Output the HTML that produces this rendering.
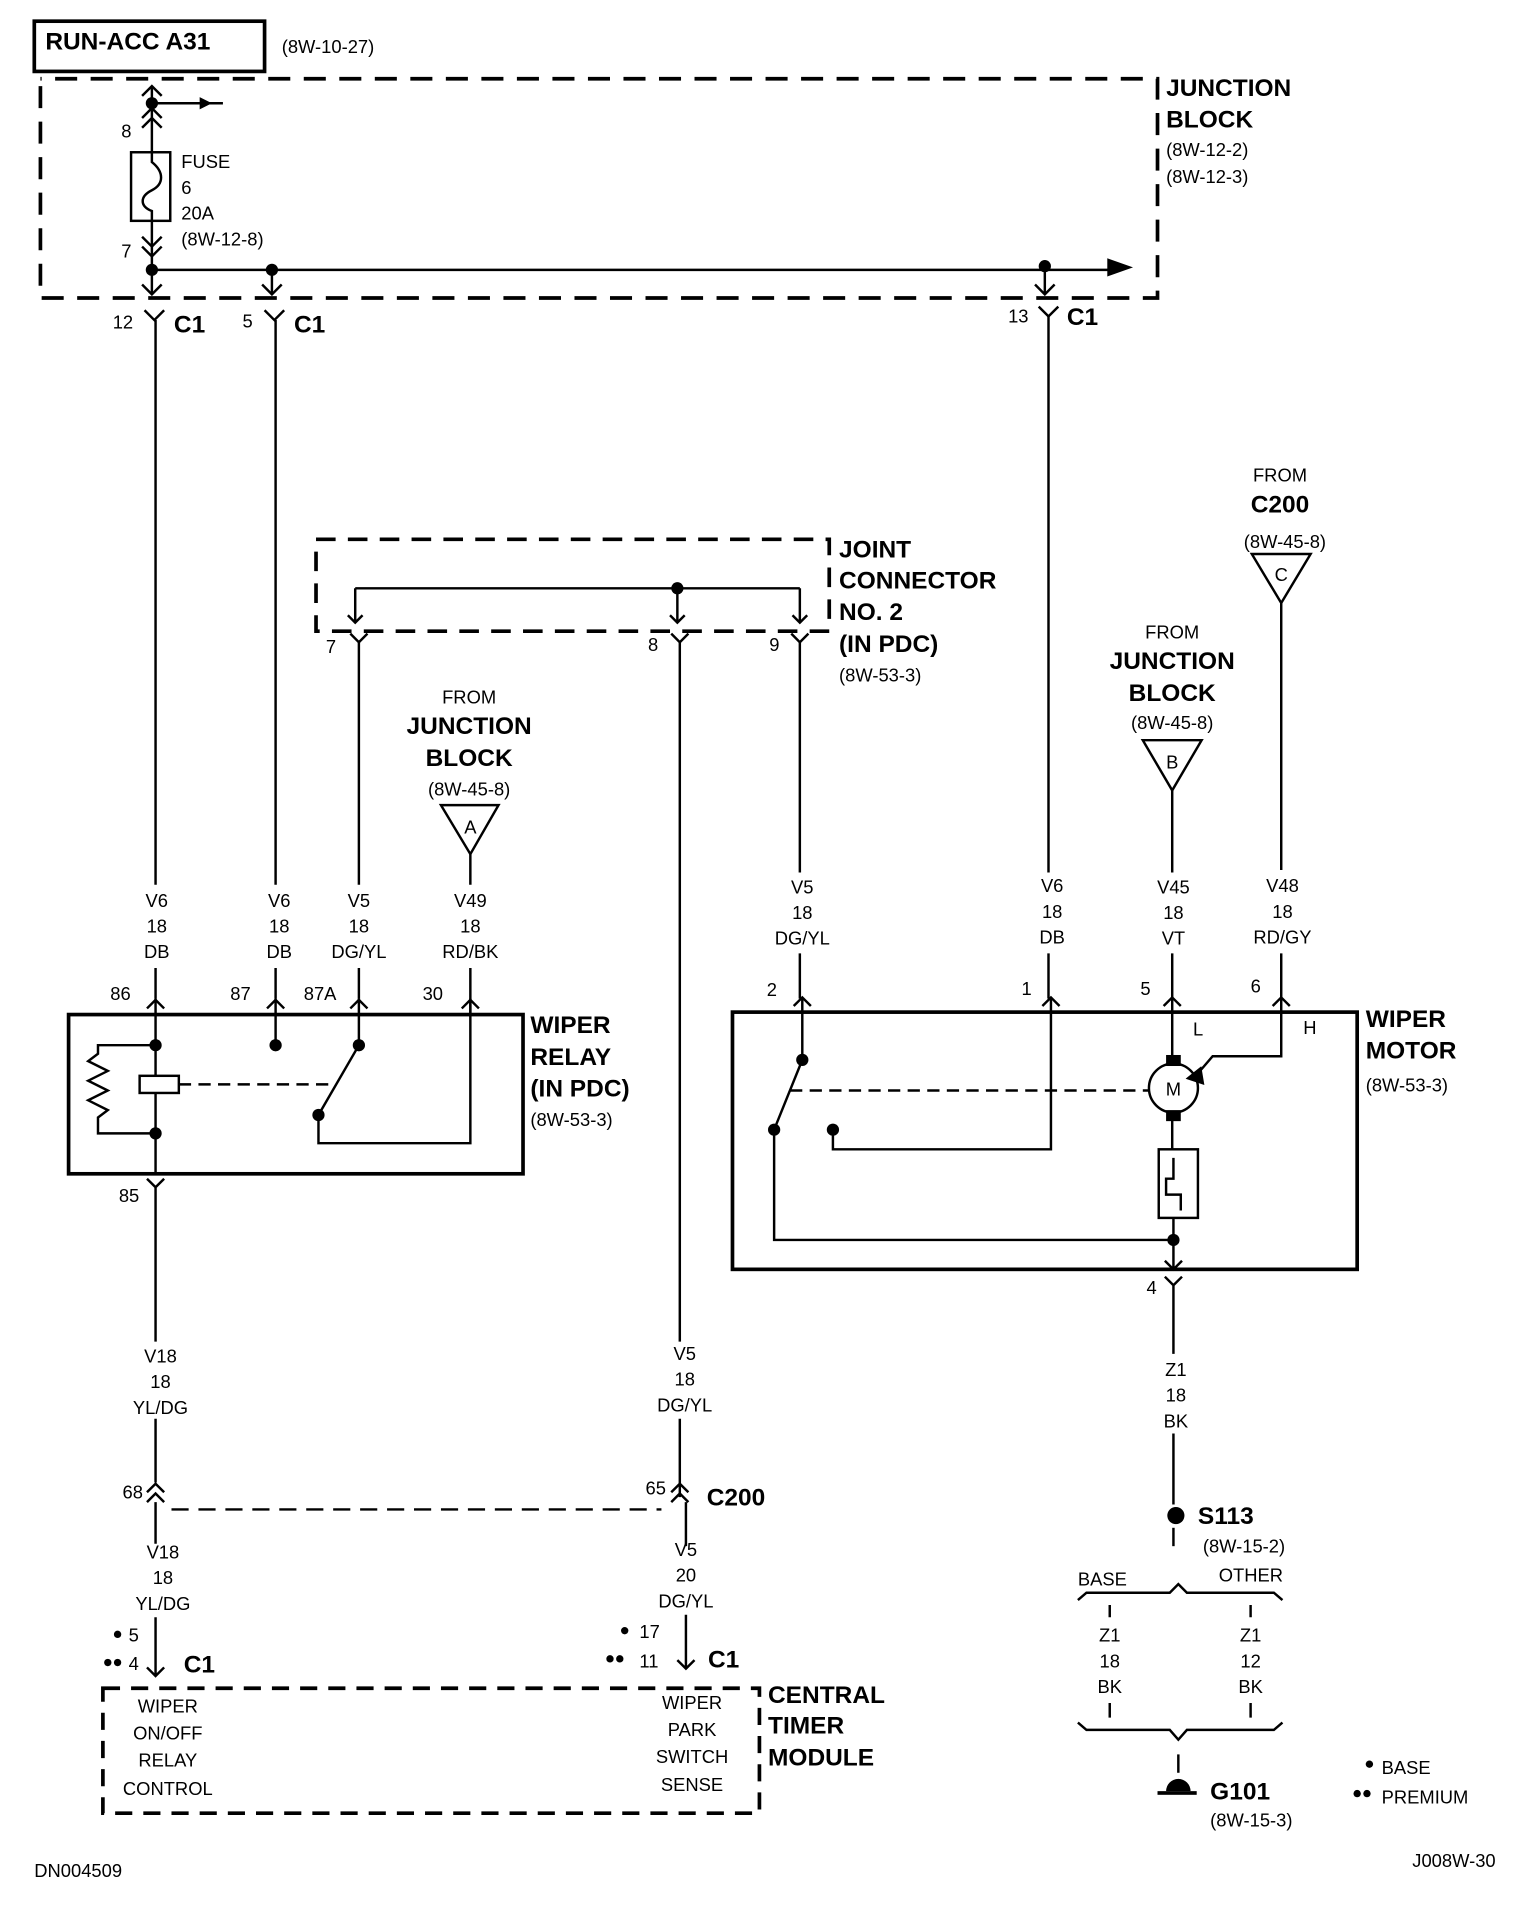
<!DOCTYPE html>
<html><head><meta charset="utf-8"><style>
html,body{margin:0;padding:0;background:#fff;}
svg{display:block;}
text{font-family:"Liberation Sans Narrow","Liberation Sans",sans-serif;fill:#000;font-size:15px;}
.b{font-weight:bold;font-size:20px;}
.c{text-anchor:middle;}
</style></head><body>
<svg width="1536" height="1914" viewBox="0 0 1254 1562" xmlns="http://www.w3.org/2000/svg">
<defs>
<marker id="ar" markerWidth="10" markerHeight="10" refX="9" refY="5" orient="auto" markerUnits="userSpaceOnUse"><path d="M0,0 L10,5 L0,10 z" fill="#000"/></marker>
</defs>
<g stroke="#000" stroke-width="2" fill="none">
<!-- top box -->
<rect x="28" y="17" width="188" height="41" stroke-width="3"/>
<!-- junction block dashed -->
<path d="M33,70 V243 H945 V64 H33" stroke-dasharray="18,11" stroke-width="3"/>
<!-- fuse column -->
<path d="M124,70 V220"/>
<path d="M116,78 L124,70 L132,78 M116,96 L124,88 L132,96 M116,104 L124,96 L132,104"/>
<path d="M124,84 H172" marker-end="url(#ar)" stroke-width="2"/>
<path d="M124,84 H182" />
<rect x="107" y="124" width="32" height="56" fill="#fff"/>
<path d="M124,124 V132 C134,140 134,150 124,155 C114,160 114,168 124,172 V180"/>
<path d="M116,193 L124,201 L132,193 M116,201 L124,209 L132,201"/>
<path d="M124,220 H910"/>
<path d="M905,212 L922,218 L905,224 z" fill="#000"/>
<path d="M222,220 V240 M853,217 V240 M124,220 V240"/>
<path d="M116,232 L124,240 L132,232 M214,232 L222,240 L230,232 M845,232 L853,240 L861,232"/>
<!-- C1 female connectors -->
<path d="M118,253 L126,261 L134,253 M216,253 L224,261 L232,253 M848,250 L856,258 L864,250"/>
<!-- wires down -->
<path d="M127,261 V722 M127,790 V815 M225,261 V722 M225,790 V815 M856,258 V712 M856,778 V815"/>
<!-- joint connector -->
<path d="M258,440 H677 V515 H258 Z" stroke-dasharray="16,10" stroke-width="3"/>
<path d="M290,480 H653 M290,480 V508 M553,480 V508 M653,480 V508"/>
<path d="M284,502 L290,508 L296,502 M547,502 L553,508 L559,502 M647,502 L653,508 L659,502"/>
<path d="M286,517 L293,524 L300,517 M548,517 L555,524 L562,517 M646,517 L653,524 L660,517"/>
<path d="M293,524 V722 M293,790 V815 M555,524 V1095 M555,1158 V1222 M653,524 V712 M653,778 V815"/>
<!-- triangles -->
<path d="M360,657 H407 L384,697 Z M933,604 H981 L957,645 Z M1022,452 H1070 L1046,492 Z"/>
<path d="M384,697 V722 M384,790 V828 M957,645 V712 M957,778 V815 M1046,492 V710 M1046,778 V815"/>
<!-- relay box -->
<rect x="56" y="828" width="371" height="130" stroke-width="3"/>
<path d="M120,823 L127,816 L134,823 M218,823 L225,816 L232,823 M286,823 L293,816 L300,823 M377,823 L384,816 L391,823"/>
<path d="M127,815 V958 M127,853 H80 V860 L72,866 L88,874 L72,882 L88,890 L72,898 L88,906 L80,912 V925 H127"/>
<rect x="114" y="878" width="32" height="14" fill="#fff"/>
<path d="M146,885 H270" stroke-dasharray="10,6"/>
<path d="M225,815 V853 M293,815 V853 M293,853 L260,910 V933 H384 V815"/>
<!-- 85 -->
<path d="M120,962 L127,969 L134,962 M127,969 V1095 M127,1158 V1210"/>
<path d="M120,1218 L127,1211 L134,1218 M120,1226 L127,1219 L134,1226"/>
<path d="M140,1232 H540" stroke-dasharray="14,8"/>
<path d="M548,1218 L555,1211 L562,1218 M548,1226 L555,1219 L562,1226"/>
<path d="M127,1226 V1260 M127,1320 V1368 M120,1361 L127,1368 L134,1361"/>
<path d="M560,1226 V1262 M560,1318 V1362 M553,1355 L560,1362 L567,1355"/>
<!-- central timer module -->
<path d="M84,1378 H620 V1480 H84 Z" stroke-dasharray="14,9" stroke-width="3"/>
<!-- motor box -->
<rect x="598" y="826" width="510" height="210" stroke-width="3"/>
<path d="M648,821 L655,814 L662,821 M851,821 L858,814 L865,821 M950,821 L957,814 L964,821 M1039,821 L1046,814 L1053,821"/>
<path d="M655,815 V865 L632,922 V1012 H958"/>
<path d="M680,922 V938 H858 V815"/>
<path d="M645,890 H938" stroke-dasharray="10,6"/>
<path d="M957,815 V868 M957,908 V938 M1046,815 V862 H990 L978,876"/>
<circle cx="958" cy="888" r="20" fill="#fff"/>
<rect x="953" y="862" width="10" height="7" fill="#000"/>
<rect x="953" y="907" width="10" height="7" fill="#000"/>
<path d="M970,880 L980,872 L982,884 z" fill="#000"/>
<rect x="946" y="938" width="32" height="56"/>
<path d="M958,945 V962 H952 V975 H964 V988"/>
<path d="M958,994 V1036 M951,1029 L958,1036 L965,1029"/>
<path d="M951,1042 L958,1049 L965,1042 M958,1049 V1105 M958,1170 V1228"/>
<!-- brace S113 -->
<path d="M958,1247 V1262"/>
<path d="M880,1306 L887,1300 H955 L962,1293 L969,1300 H1040 L1047,1306"/>
<path d="M906,1310 V1320 M1021,1310 V1320 M906,1390 V1402 M1021,1390 V1402"/>
<path d="M880,1406 L887,1412 H955 L962,1420 L969,1412 H1040 L1047,1406"/>
<path d="M962,1432 V1447"/>
</g>
<g fill="#000">
<circle cx="124" cy="84" r="5"/><circle cx="124" cy="220" r="5"/><circle cx="222" cy="220" r="5"/><circle cx="853" cy="217" r="5"/>
<circle cx="553" cy="480" r="5"/>
<circle cx="127" cy="853" r="5"/><circle cx="127" cy="925" r="5"/><circle cx="225" cy="853" r="5"/><circle cx="293" cy="853" r="5"/><circle cx="260" cy="910" r="5"/>
<circle cx="655" cy="865" r="5"/><circle cx="632" cy="922" r="5"/><circle cx="680" cy="922" r="5"/><circle cx="958" cy="1012" r="5"/>
<circle cx="960" cy="1237" r="7"/>
<path d="M952,1462 A10,10 0 0 1 972,1462 z"/><rect x="945" y="1462" width="32" height="3"/>
<circle cx="1118" cy="1440" r="3"/><circle cx="1108" cy="1464" r="3"/><circle cx="1116" cy="1464" r="3"/>
<circle cx="96" cy="1334" r="3"/><circle cx="88" cy="1357" r="3"/><circle cx="96" cy="1357" r="3"/>
<circle cx="510" cy="1331" r="3"/><circle cx="498" cy="1354" r="3"/><circle cx="506" cy="1354" r="3"/>
</g>
<text x="37" y="40" class="b">RUN-ACC A31</text>
<text x="230" y="43">(8W-10-27)</text>
<text x="952" y="78" class="b">JUNCTION</text><text x="952" y="104" class="b">BLOCK</text>
<text x="952" y="127">(8W-12-2)</text><text x="952" y="149">(8W-12-3)</text>
<text x="99" y="112">8</text><text x="99" y="210">7</text>
<text x="148" y="137">FUSE</text><text x="148" y="158">6</text><text x="148" y="179">20A</text><text x="148" y="200">(8W-12-8)</text>
<text x="92" y="268">12</text><text x="142" y="271" class="b">C1</text>
<text x="198" y="267">5</text><text x="240" y="271" class="b">C1</text>
<text x="823" y="263">13</text><text x="871" y="265" class="b">C1</text>
<text x="685" y="455" class="b">JOINT</text><text x="685" y="480" class="b">CONNECTOR</text><text x="685" y="506" class="b">NO. 2</text><text x="685" y="532" class="b">(IN PDC)</text><text x="685" y="556">(8W-53-3)</text>
<text x="266" y="533">7</text><text x="529" y="531">8</text><text x="628" y="531">9</text>
<g class="c">
<text x="383" y="574" class="c">FROM</text><text x="383" y="599" class="b c">JUNCTION</text><text x="383" y="625" class="b c">BLOCK</text><text x="383" y="649" class="c">(8W-45-8)</text><text x="384" y="680" class="c">A</text>
<text x="957" y="521" class="c">FROM</text><text x="957" y="546" class="b c">JUNCTION</text><text x="957" y="572" class="b c">BLOCK</text><text x="957" y="595" class="c">(8W-45-8)</text><text x="957" y="627" class="c">B</text>
<text x="1045" y="393" class="c">FROM</text><text x="1045" y="418" class="b c">C200</text><text x="1049" y="447" class="c">(8W-45-8)</text><text x="1046" y="474" class="c">C</text>
</g>
<text x="128" y="740" class="c">V6</text><text x="128" y="761" class="c">18</text><text x="128" y="782" class="c">DB</text>
<text x="228" y="740" class="c">V6</text><text x="228" y="761" class="c">18</text><text x="228" y="782" class="c">DB</text>
<text x="293" y="740" class="c">V5</text><text x="293" y="761" class="c">18</text><text x="293" y="782" class="c">DG/YL</text>
<text x="384" y="740" class="c">V49</text><text x="384" y="761" class="c">18</text><text x="384" y="782" class="c">RD/BK</text>
<text x="655" y="729" class="c">V5</text><text x="655" y="750" class="c">18</text><text x="655" y="771" class="c">DG/YL</text>
<text x="859" y="728" class="c">V6</text><text x="859" y="749" class="c">18</text><text x="859" y="770" class="c">DB</text>
<text x="958" y="729" class="c">V45</text><text x="958" y="750" class="c">18</text><text x="958" y="771" class="c">VT</text>
<text x="1047" y="728" class="c">V48</text><text x="1047" y="749" class="c">18</text><text x="1047" y="770" class="c">RD/GY</text>
<text x="90" y="816">86</text><text x="188" y="816">87</text><text x="248" y="816">87A</text><text x="345" y="816">30</text>
<text x="433" y="843" class="b">WIPER</text><text x="433" y="869" class="b">RELAY</text><text x="433" y="895" class="b">(IN PDC)</text><text x="433" y="919">(8W-53-3)</text>
<text x="97" y="981">85</text>
<text x="131" y="1112" class="c">V18</text><text x="131" y="1133" class="c">18</text><text x="131" y="1154" class="c">YL/DG</text>
<text x="559" y="1110" class="c">V5</text><text x="559" y="1131" class="c">18</text><text x="559" y="1152" class="c">DG/YL</text>
<text x="100" y="1223">68</text><text x="527" y="1220">65</text><text x="577" y="1229" class="b">C200</text>
<text x="133" y="1272" class="c">V18</text><text x="133" y="1293" class="c">18</text><text x="133" y="1314" class="c">YL/DG</text>
<text x="560" y="1270" class="c">V5</text><text x="560" y="1291" class="c">20</text><text x="560" y="1312" class="c">DG/YL</text>
<text x="105" y="1340">5</text><text x="105" y="1363">4</text><text x="150" y="1365" class="b">C1</text>
<text x="522" y="1337">17</text><text x="522" y="1361">11</text><text x="578" y="1361" class="b">C1</text>
<text x="137" y="1398" class="c">WIPER</text><text x="137" y="1420" class="c">ON/OFF</text><text x="137" y="1442" class="c">RELAY</text><text x="137" y="1465" class="c">CONTROL</text>
<text x="565" y="1395" class="c">WIPER</text><text x="565" y="1417" class="c">PARK</text><text x="565" y="1439" class="c">SWITCH</text><text x="565" y="1462" class="c">SENSE</text>
<text x="627" y="1390" class="b">CENTRAL</text><text x="627" y="1415" class="b">TIMER</text><text x="627" y="1441" class="b">MODULE</text>
<text x="28" y="1532">DN004509</text>
<text x="626" y="813">2</text><text x="834" y="812">1</text><text x="931" y="812">5</text><text x="1021" y="810">6</text>
<text x="974" y="845">L</text><text x="1064" y="844">H</text><text x="958" y="894" class="c">M</text>
<text x="1115" y="838" class="b">WIPER</text><text x="1115" y="864" class="b">MOTOR</text><text x="1115" y="891">(8W-53-3)</text>
<text x="936" y="1056">4</text>
<text x="960" y="1123" class="c">Z1</text><text x="960" y="1144" class="c">18</text><text x="960" y="1165" class="c">BK</text>
<text x="978" y="1244" class="b">S113</text><text x="982" y="1267">(8W-15-2)</text>
<text x="880" y="1294">BASE</text><text x="995" y="1291">OTHER</text>
<text x="906" y="1340" class="c">Z1</text><text x="906" y="1361" class="c">18</text><text x="906" y="1382" class="c">BK</text>
<text x="1021" y="1340" class="c">Z1</text><text x="1021" y="1361" class="c">12</text><text x="1021" y="1382" class="c">BK</text>
<text x="988" y="1469" class="b">G101</text><text x="988" y="1491">(8W-15-3)</text>
<text x="1128" y="1448">BASE</text><text x="1128" y="1472">PREMIUM</text>
<text x="1153" y="1524">J008W-30</text>
</svg>
</body></html>
